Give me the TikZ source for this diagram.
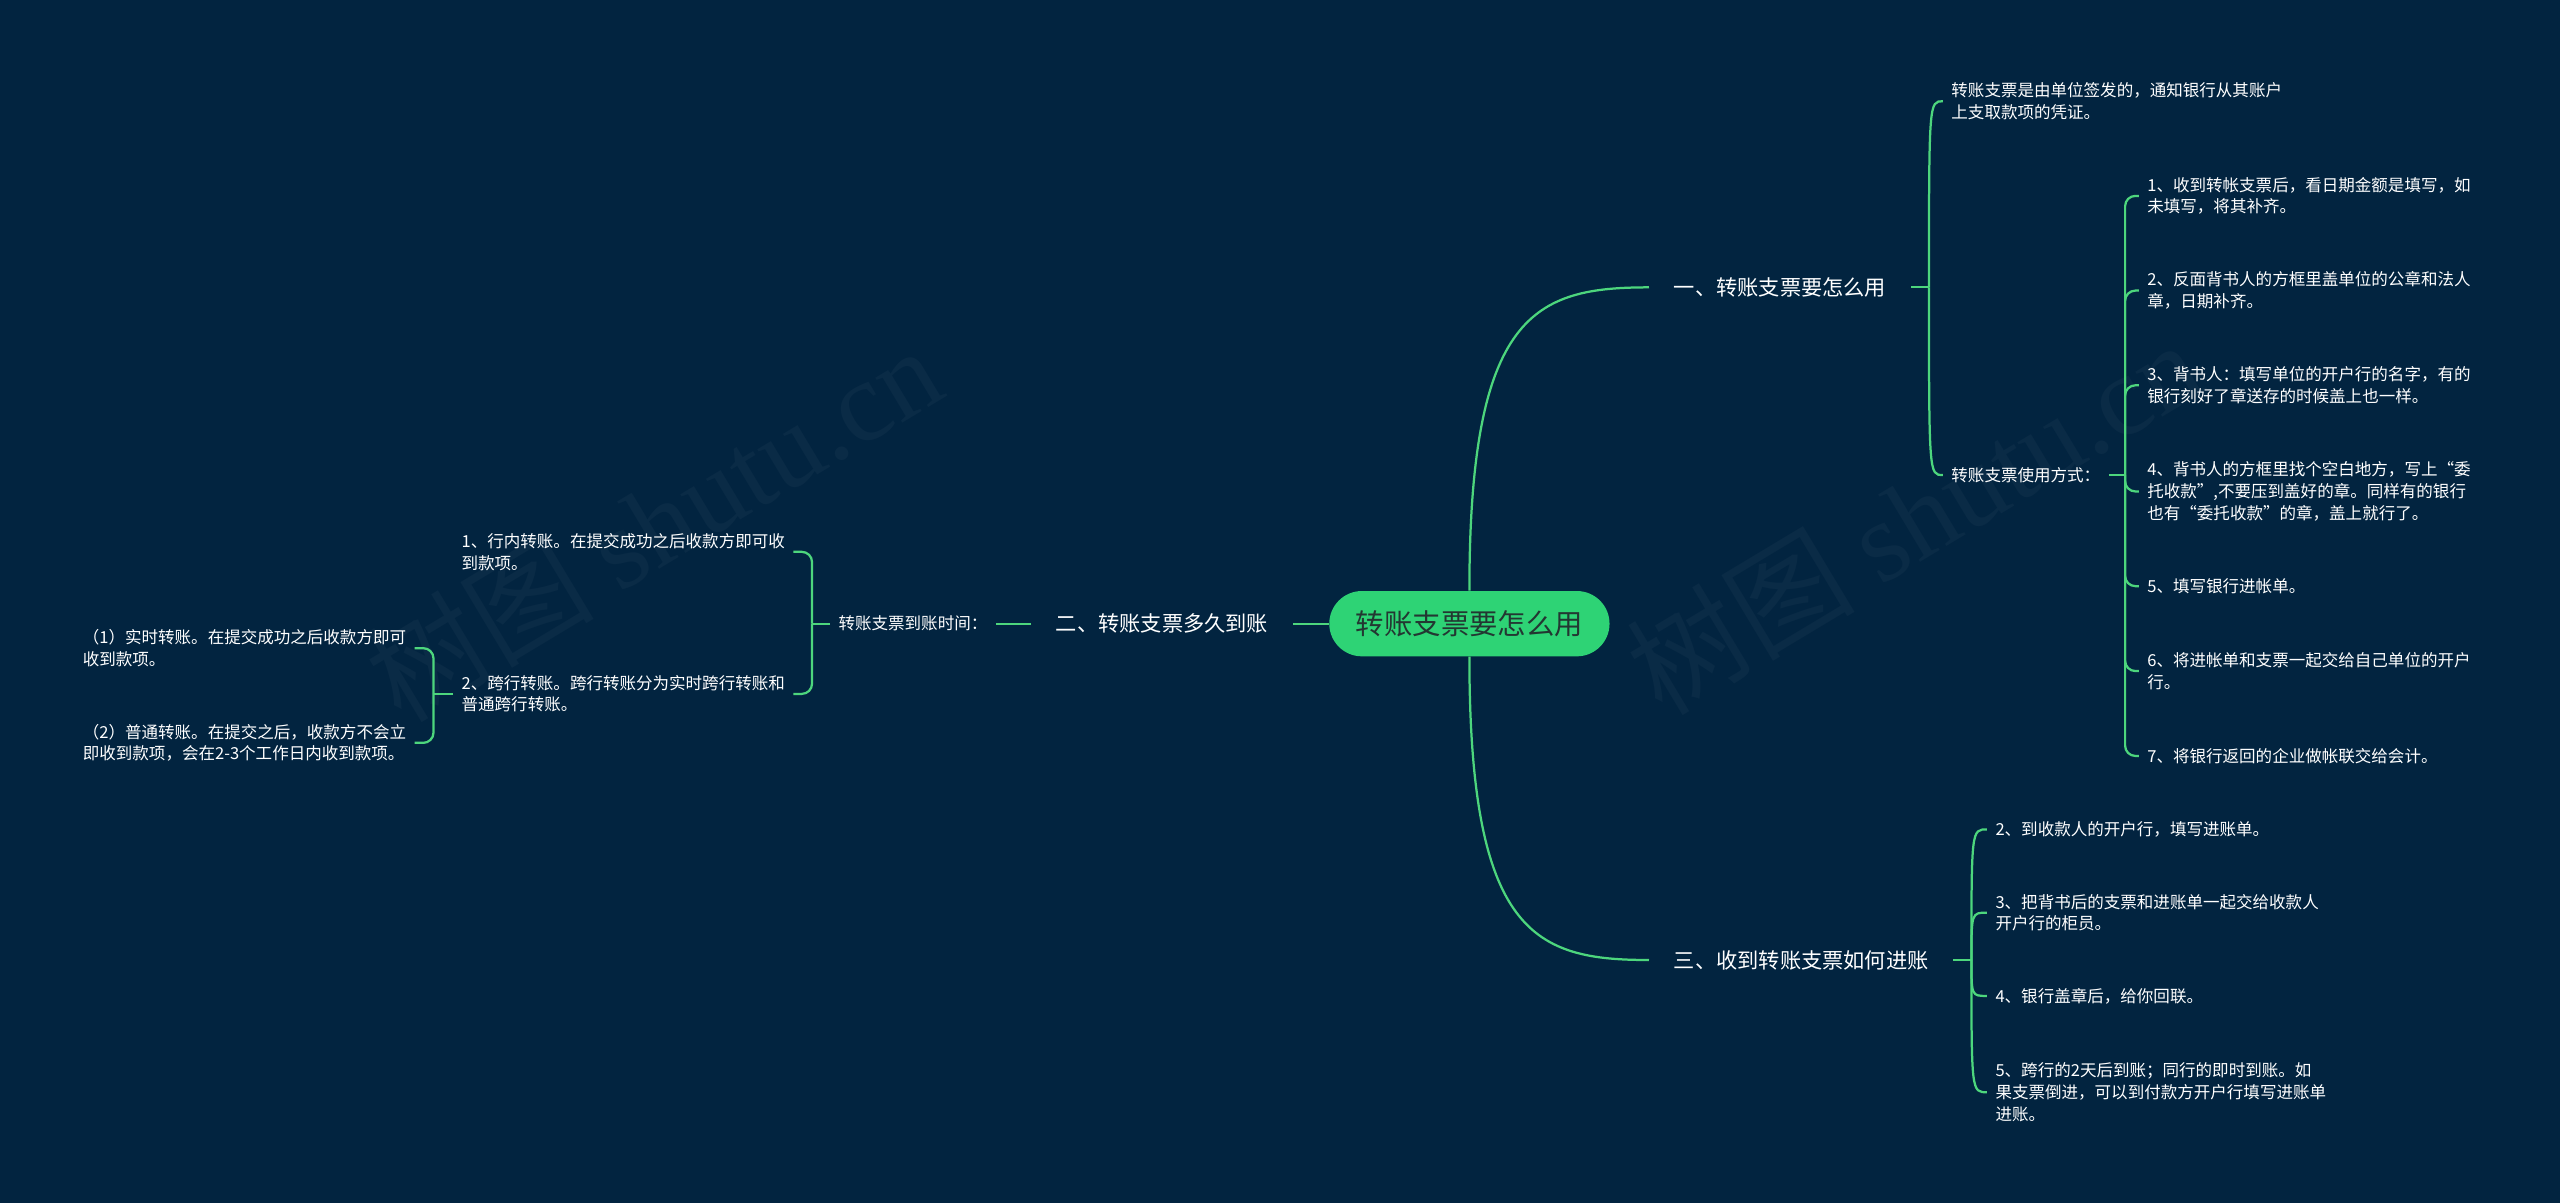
\documentclass[tikz,border=0pt]{standalone}
\usepackage{fontspec}
\usetikzlibrary{shapes.misc}
\newfontfamily\cjk{Noto Sans CJK SC}
\newfontfamily\wmserif{Liberation Serif}
\definecolor{MapNavy}{RGB}{2,36,64}
\definecolor{MapGreen}{RGB}{46,211,117}
\definecolor{MapLine}{RGB}{77,214,125}
\definecolor{MapInk}{RGB}{35,55,50}
\tikzset{
  mm root/.style={
    rounded rectangle,
    fill=MapGreen,
    text=MapInk,
    minimum width=144pt,
    minimum height=32pt,
    font=\cjk\fontsize{13.9pt}{16pt}\selectfont
  },
  mm topic/.style={text=white, inner xsep=12pt, inner ysep=3pt, font=\cjk\fontsize{10.4pt}{13pt}\selectfont},
  mm leaf/.style={text=white, align=left, inner xsep=4pt, inner ysep=2pt, font=\cjk\fontsize{8.1pt}{10.6pt}\selectfont},
  mm link/.style={draw=MapLine, line width=1.1pt},
  mm brace/.style={mm link, rounded corners=5pt},
  mm mark/.style={text=MapNavy!97!white, rotate=31, font=\fontsize{56pt}{60pt}\selectfont}
}

\begin{document}
\begin{tikzpicture}[x=0.8pt, y=-0.8pt]
\fill[MapNavy] (0,0) rectangle (1568,737);
\useasboundingbox (0,0) rectangle (1568,737);
% watermarks
\node[mm mark] (mark1) at (400,320) {\cjk 树图 \wmserif shutu.cn};
\node[mm mark] (mark2) at (1172,316) {\cjk 树图 \wmserif shutu.cn};

\node[mm root] (root) at (900,382) {转账支票要怎么用};
\node[mm topic, anchor=west] (how) at (1010,176) {一、转账支票要怎么用};
\node[mm topic, anchor=east] (when) at (792,382) {二、转账支票多久到账};
\node[mm topic, anchor=west] (post) at (1010,588) {三、收到转账支票如何进账};

% right, upper branch
\node[mm leaf, anchor=west] (def) at (1190,62) {转账支票是由单位签发的，通知银行从其账户\\上支取款项的凭证。};
\node[mm leaf, anchor=west] (use) at (1190,291) {转账支票使用方式：};
\node[mm leaf, anchor=west] (u1) at (1310,120) {1、收到转帐支票后，看日期金额是填写，如\\未填写，将其补齐。};
\node[mm leaf, anchor=west] (u2) at (1310,178) {2、反面背书人的方框里盖单位的公章和法人\\章，日期补齐。};
\node[mm leaf, anchor=west] (u3) at (1310,236) {3、背书人：填写单位的开户行的名字，有的\\银行刻好了章送存的时候盖上也一样。};
\node[mm leaf, anchor=west] (u4) at (1310,301) {4、背书人的方框里找个空白地方，写上“委\\托收款”,不要压到盖好的章。同样有的银行\\也有“委托收款”的章，盖上就行了。};
\node[mm leaf, anchor=west] (u5) at (1310,359) {5、填写银行进帐单。};
\node[mm leaf, anchor=west] (u6) at (1310,411) {6、将进帐单和支票一起交给自己单位的开户\\行。};
\node[mm leaf, anchor=west] (u7) at (1310,463) {7、将银行返回的企业做帐联交给会计。};

% right, lower branch
\node[mm leaf, anchor=west] (p1) at (1217,508) {2、到收款人的开户行，填写进账单。};
\node[mm leaf, anchor=west] (p2) at (1217,559) {3、把背书后的支票和进账单一起交给收款人\\开户行的柜员。};
\node[mm leaf, anchor=west] (p3) at (1217,610) {4、银行盖章后，给你回联。};
\node[mm leaf, anchor=west] (p4) at (1217,669) {5、跨行的2天后到账；同行的即时到账。如\\果支票倒进，可以到付款方开户行填写进账单\\进账。};

% left branch
\node[mm leaf, anchor=east] (wait) at (610,382) {转账支票到账时间：};
\node[mm leaf, anchor=east] (w1) at (486,338) {1、行内转账。在提交成功之后收款方即可收\\到款项。};
\node[mm leaf, anchor=east] (w2) at (486,425) {2、跨行转账。跨行转账分为实时跨行转账和\\普通跨行转账。};
\node[mm leaf, anchor=east] (k1) at (254,397) {（1）实时转账。在提交成功之后收款方即可\\收到款项。};
\node[mm leaf, anchor=east] (k2) at (254,455) {（2）普通转账。在提交之后，收款方不会立\\即收到款项，会在2-3个工作日内收到款项。};

\draw[mm link] (root.north) .. controls +(0,-170) and +(-70,0) .. (how.west);
\draw[mm link] (root.south) .. controls +(0,170) and +(-70,0) .. (post.west);
\draw[mm link] (root.west) -- (when.east);
\draw[mm link] (when.west) -- (wait.east);

\draw[mm link] (how.east) -- ++(11,0) coordinate (howfork);
\foreach \n in {def,use}
  \draw[mm link] (howfork) .. controls (howfork |- \n.west) .. (\n.west);
\draw[mm link] (use.east) -- ++(10,0) coordinate (usefork);
\foreach \i in {1,...,7}
  \draw[mm brace] (usefork) |- (u\i.west);

\draw[mm link] (post.east) -- ++(11,0) coordinate (postfork);
\foreach \i in {1,...,4}
  \draw[mm link] (postfork) .. controls (postfork |- p\i.west) .. (p\i.west);

\draw[mm link] (wait.west) -- ++(-11,0) coordinate (waitfork);
\foreach \i in {1,2}
  \draw[mm brace] (waitfork) |- (w\i.east);
\draw[mm link] (w2.west) -- ++(-12,0) coordinate (kindfork);
\foreach \i in {1,2}
  \draw[mm brace] (kindfork) |- (k\i.east);
\end{tikzpicture}
\end{document}
